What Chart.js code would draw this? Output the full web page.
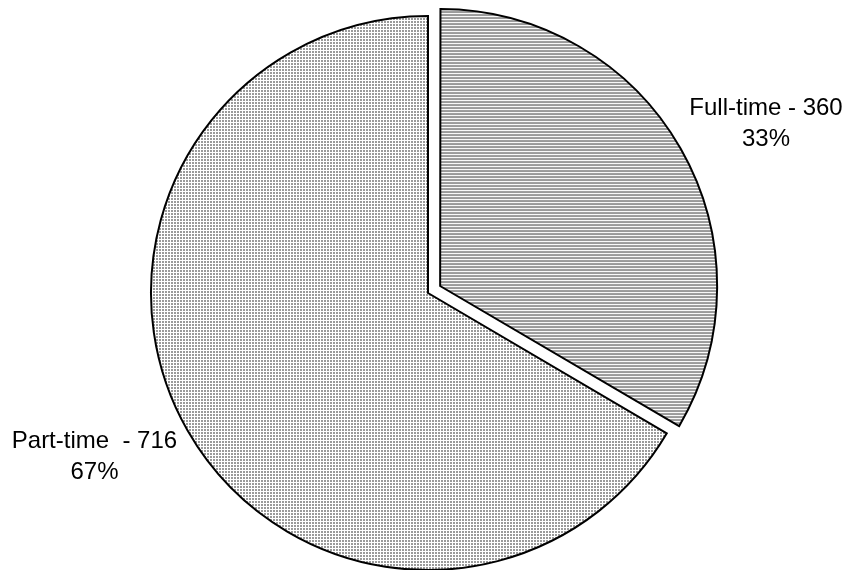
<!DOCTYPE html>
<html>
<head>
<meta charset="utf-8">
<script src="https://cdn.jsdelivr.net/npm/chart.js@4/dist/chart.umd.min.js"></script>
<style>
  html, body { margin: 0; padding: 0; background: #fff; }
  #wrap { width: 853px; height: 570px; }
</style>
</head>
<body>
<div id="wrap"><canvas id="chart-pie" width="853" height="570"></canvas></div>
<script>
const categories = ["Full-time", "Part-time "];
const values = [360, 716];
const explode = [56, 0]; // chart.js moves the slice by offset/4

// hatch fills like the old excel pie
function makePattern(kind) {
  const c = document.createElement("canvas");
  c.width = 3;
  c.height = 3;
  const p = c.getContext("2d");
  p.fillStyle = "#fff";
  p.fillRect(0, 0, 3, 3);
  p.fillStyle = "#9a9a9a";
  if (kind === "lines") {
    p.fillRect(0, 0, 3, 2);
  } else {
    p.fillRect(0, 0, 2, 2);
  }
  return p.createPattern(c, "repeat");
}

// keep exploded slice at same radius as the others
const fixRadius = {
  id: "fixRadius",
  afterDatasetUpdate(chart, args) {
    args.meta.data.forEach((arc) => {
      const off = (arc.options.offset || 0) / 4;
      const circ = arc.endAngle - arc.startAngle;
      arc.outerRadius -= off * (1 - Math.sin(Math.min(Math.PI, circ)));
    });
  },
};

const sliceLabels = {
  id: "sliceLabels",
  afterDraw(chart) {
    const ctx = chart.ctx;
    const meta = chart.getDatasetMeta(0);
    const total = values.reduce((a, b) => a + b, 0);
    ctx.save();
    ctx.font = "24px 'Liberation Sans', Arial, sans-serif";
    ctx.fillStyle = "#000";
    ctx.textAlign = "center";
    ctx.textBaseline = "middle";
    meta.data.forEach((arc, i) => {
      const mid = (arc.startAngle + arc.endAngle) / 2;
      const off = (arc.options.offset || 0) / 4;
      const cx = arc.x + Math.cos(mid) * off;
      const cy = arc.y + Math.sin(mid) * off;
      const dist = arc.outerRadius + 12;
      const lines = [
        categories[i] + " - " + values[i],
        Math.round((values[i] / total) * 100) + "%",
      ];
      const w = Math.max(...lines.map((t) => ctx.measureText(t).width));
      const ax = cx + Math.cos(mid) * dist + Math.sign(Math.cos(mid)) * w / 2;
      const ay = cy + Math.sin(mid) * dist + Math.sign(Math.sin(mid)) * 20;
      ctx.fillText(lines[0], ax, ay - 15);
      ctx.fillText(lines[1], ax, ay + 16);
    });
    ctx.restore();
  },
};

const ctx = document.querySelector("#chart-pie").getContext("2d");
const myChart = new Chart(ctx, {
  type: "pie",
  data: {
    labels: categories,
    datasets: [
      {
        data: values,
        backgroundColor: [makePattern("lines"), makePattern("checks")],
        borderColor: "#000",
        borderWidth: 2,
        borderJoinStyle: "miter",
        offset: explode,
        hoverOffset: 0,
      },
    ],
  },
  options: {
    responsive: false,
    animation: false,
    radius: 277,
    layout: {
      padding: { left: 3, right: 0, top: 16, bottom: 0 },
    },
    plugins: {
      legend: { display: false },
      tooltip: { enabled: false },
    },
  },
  plugins: [fixRadius, sliceLabels],
});
</script>
</body>
</html>
